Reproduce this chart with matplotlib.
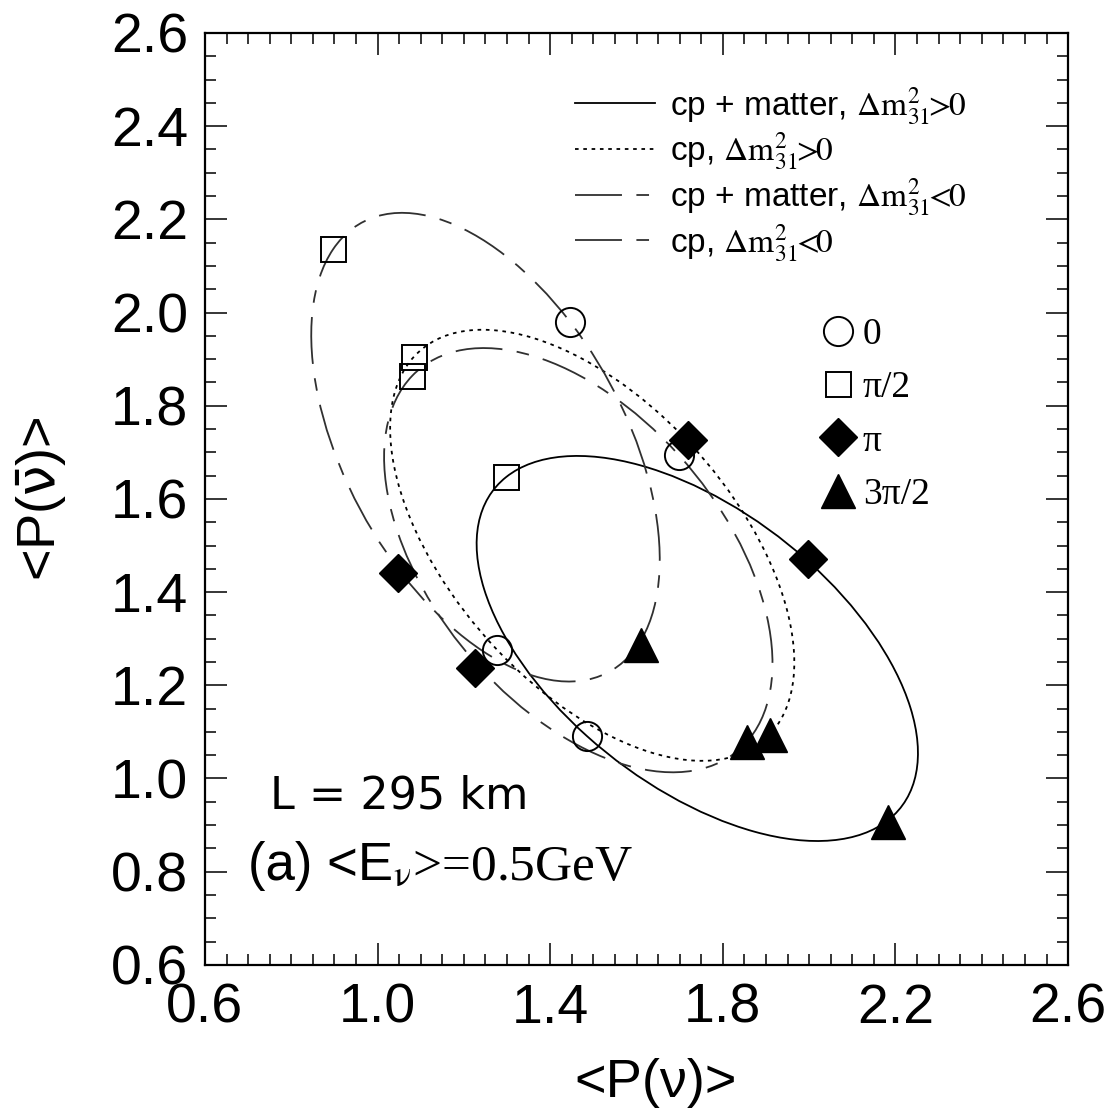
import numpy as np
import matplotlib.pyplot as plt
from matplotlib.path import Path
from matplotlib.patches import PathPatch
from matplotlib.transforms import Affine2D
from matplotlib.lines import Line2D
from matplotlib.ticker import MultipleLocator, FormatStrFormatter
from matplotlib.font_manager import FontProperties

# points at delta_CP = 0, pi/2, pi, 3pi/2 on each curve
delta_labels = ['0', 'π/2', 'π', '3π/2']

matter_pos_x = [1.485, 1.298, 1.997, 2.183]
matter_pos_y = [1.091, 1.647, 1.471, 0.907]

vac_pos_x = [1.277, 1.084, 1.719, 1.909]
vac_pos_y = [1.276, 1.905, 1.727, 1.094]

matter_neg_x = [1.446, 0.897, 1.047, 1.610]
matter_neg_y = [1.980, 2.136, 1.441, 1.287]

vac_neg_x = [1.698, 1.080, 1.226, 1.856]
vac_neg_y = [1.694, 1.864, 1.237, 1.079]

x_ticks = [0.6, 1.0, 1.4, 1.8, 2.2, 2.6]
y_ticks = [0.6, 0.8, 1.0, 1.2, 1.4, 1.6, 1.8, 2.0, 2.2, 2.4, 2.6]

curve_labels = [
    r"cp + matter, $\Delta\mathrm{m}^{2}_{31}\!\!>\!\!0$",
    r"cp, $\Delta\mathrm{m}^{2}_{31}\!\!>\!\!0$",
    r"cp + matter, $\Delta\mathrm{m}^{2}_{31}\!\!<\!\!0$",
    r"cp, $\Delta\mathrm{m}^{2}_{31}\!\!<\!\!0$",
]

long_dash = (0, (26, 8, 7, 8))
styles = [
    dict(ls='-', color='black', lw=1.3),
    dict(ls=(0, (2.0, 2.6)), color='black', lw=1.3),
    dict(ls=long_dash, color='#303030', lw=1.3),
    dict(ls=long_dash, color='#303030', lw=1.3),
]
curves = [(matter_pos_x, matter_pos_y), (vac_pos_x, vac_pos_y),
          (matter_neg_x, matter_neg_y), (vac_neg_x, vac_neg_y)]

markers = [
    dict(marker='o', ms=21, mfc='none', mec='black', mew=1.4),
    dict(marker='s', ms=18, mfc='none', mec='black', mew=1.4),
    dict(marker='D', ms=19, mfc='black', mec='black', mew=1.0),
    dict(marker='^', ms=25, mfc='black', mec='black', mew=1.0),
]


def add_ellipse(ax, xs, ys, **kw):
    # CP trajectory: x = c + a*cos(d) + b*sin(d), fixed by the points at d=0 and d=pi/2
    cx, cy = np.mean(xs), np.mean(ys)
    m = np.array([[xs[0] - cx, xs[1] - cx, cx],
                  [ys[0] - cy, ys[1] - cy, cy],
                  [0.0, 0.0, 1.0]])
    patch = PathPatch(Path.unit_circle(), transform=Affine2D(m) + ax.transData,
                      fill=False, linestyle=kw['ls'], edgecolor=kw['color'],
                      linewidth=kw['lw'])
    ax.add_patch(patch)


fig = plt.figure(figsize=(11.08, 11.18), dpi=100)
ax = fig.add_axes([0.185, 0.137, 0.779, 0.8335])

for (xs, ys), st in zip(curves, styles):
    add_ellipse(ax, xs, ys, **st)

for (xs, ys) in curves:
    for i in range(4):
        ax.plot(xs[i], ys[i], ls='none', zorder=3, **markers[i])

ax.set_xlim(0.6, 2.6)
ax.set_ylim(0.6, 2.6)
ax.set_xticks(x_ticks)
ax.set_yticks(y_ticks)
ax.xaxis.set_minor_locator(MultipleLocator(0.05))
ax.yaxis.set_minor_locator(MultipleLocator(0.05))
ax.xaxis.set_major_formatter(FormatStrFormatter('%.1f'))
ax.yaxis.set_major_formatter(FormatStrFormatter('%.1f'))
ax.tick_params(which='both', direction='in', top=True, right=True, width=1.1)
ax.tick_params(which='major', length=16, labelsize=40)
ax.tick_params(which='minor', length=8)
ax.tick_params(axis='x', pad=13)
ax.tick_params(axis='y', pad=12)
for lab in ax.get_xticklabels() + ax.get_yticklabels():
    lab.set_family('Liberation Sans')
for sp in ax.spines.values():
    sp.set_linewidth(1.6)

ax.set_xlabel('<P(ν)>', family='Liberation Sans', fontsize=39)
ax.xaxis.set_label_coords(0.522, -0.100)
ax.set_ylabel(r'<P($\mathrm{\bar{\nu}}$)>', family='Liberation Sans', fontsize=39,
              math_fontfamily='dejavusans')
ax.yaxis.set_label_coords(-0.158, 0.5)

# legend of the four curves
line_handles = [Line2D([], [], linestyle=st['ls'], color=st['color'], lw=st['lw'])
                for st in styles]
leg1 = ax.legend(line_handles, curve_labels, loc='upper left',
                 bbox_to_anchor=(0.4287, 0.944), frameon=False, handlelength=2.4,
                 handletextpad=0.45, labelspacing=0.12, borderaxespad=0, borderpad=0,
                 prop=FontProperties(family='Liberation Sans', size=24,
                                     math_fontfamily='stix'))
ax.add_artist(leg1)

# legend of the delta_CP values
marker_handles = [Line2D([], [], ls='none', **mk) for mk in markers]
ax.legend(marker_handles, delta_labels, loc='upper left',
          bbox_to_anchor=(0.712, 0.6946), frameon=False, handlelength=1.0,
          handletextpad=0.15, labelspacing=0.5, borderaxespad=0, borderpad=0,
          prop=FontProperties(family='Liberation Serif', size=27))

ax.text(0.075, 0.168, 'L = 295 km', transform=ax.transAxes,
        fontsize=32, family='DejaVu Sans', va='baseline', ha='left')
t1 = ax.text(0.05, 0.091, '(a) <E', transform=ax.transAxes, fontsize=38,
             family='Liberation Sans', va='baseline', ha='left')
ax.annotate(r'$_{\mathrm{\nu}}$>=0.5GeV', xy=(1.0, 0.0), xycoords=t1, xytext=(0, 0),
            textcoords='offset points', fontsize=37, family='Liberation Serif',
            math_fontfamily='stix', va='bottom', ha='left')

fig.savefig('out.png', dpi=100)
